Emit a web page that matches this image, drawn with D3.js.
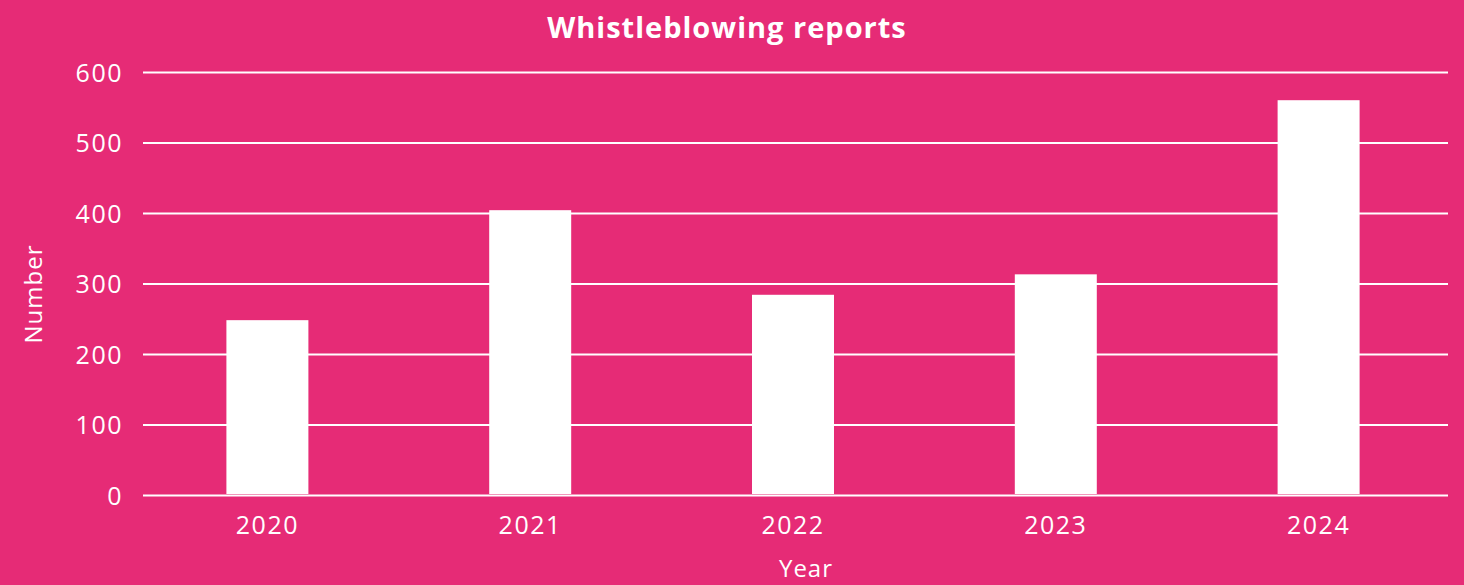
<!DOCTYPE html>
<html>
<head>
<meta charset="utf-8">
<script src="https://cdn.jsdelivr.net/npm/d3@7"></script>
<style>
  html, body { margin: 0; padding: 0; background: #e62b76; }
  svg { display: block; }
  svg text { font-family: "Open Sans", "Noto Sans", sans-serif; }
</style>
</head>
<body>
<div id="chart"></div>
<script>
// chart data
var years = ["2020", "2021", "2022", "2023", "2024"];
var reports = [248, 404, 284, 313, 560];
var yTicks = [0, 100, 200, 300, 400, 500, 600];

var W = 1464, H = 585;
var bg = "#e62b76";

var svg = d3.select("#chart").append("svg")
  .attr("width", W).attr("height", H);

svg.append("rect").attr("width", W).attr("height", H).attr("fill", bg);

var y = d3.scaleLinear().domain([0, 600]).range([495, 72]);
var x = d3.scaleBand().domain(years).range([136, 1450])
  .paddingInner(0.688).paddingOuter(0.344);

// gridlines + y labels
var yAxis = svg.append("g")
  .attr("transform", "translate(143,0)")
  .call(d3.axisLeft(y).tickValues(yTicks).tickSize(-(1448 - 143)).tickPadding(20));
yAxis.select(".domain").remove();
yAxis.selectAll(".tick line").attr("stroke", "#fff").attr("stroke-width", 2);
yAxis.selectAll(".tick text").attr("fill", "#fff").attr("font-size", 25)
  .attr("letter-spacing", 1.5).attr("dy", "0.36em");

// bars
svg.append("g").selectAll("rect")
  .data(years)
  .join("rect")
  .attr("x", function (d) { return x(d); })
  .attr("width", x.bandwidth())
  .attr("y", function (d, i) { return y(reports[i]); })
  .attr("height", function (d, i) { return y(0) - y(reports[i]) - 1; })
  .attr("fill", "#fff");

// x labels
var xAxis = svg.append("g")
  .attr("transform", "translate(0,495)")
  .call(d3.axisBottom(x).tickSize(0).tickPadding(21));
xAxis.select(".domain").remove();
xAxis.selectAll(".tick text").attr("fill", "#fff").attr("font-size", 25)
  .attr("letter-spacing", 1.5);

// title
svg.append("text")
  .attr("x", 727).attr("y", 38)
  .attr("text-anchor", "middle")
  .attr("fill", "#fff").attr("font-size", 29).attr("font-weight", "bold")
  .attr("letter-spacing", 1)
  .text("Whistleblowing reports");

// axis titles
svg.append("text")
  .attr("transform", "translate(42,294) rotate(-90)")
  .attr("text-anchor", "middle")
  .attr("fill", "#fff").attr("font-size", 24).attr("letter-spacing", 1)
  .text("Number");

svg.append("text")
  .attr("x", 806).attr("y", 577)
  .attr("text-anchor", "middle")
  .attr("fill", "#fff").attr("font-size", 24).attr("letter-spacing", 1)
  .text("Year");
</script>
</body>
</html>
